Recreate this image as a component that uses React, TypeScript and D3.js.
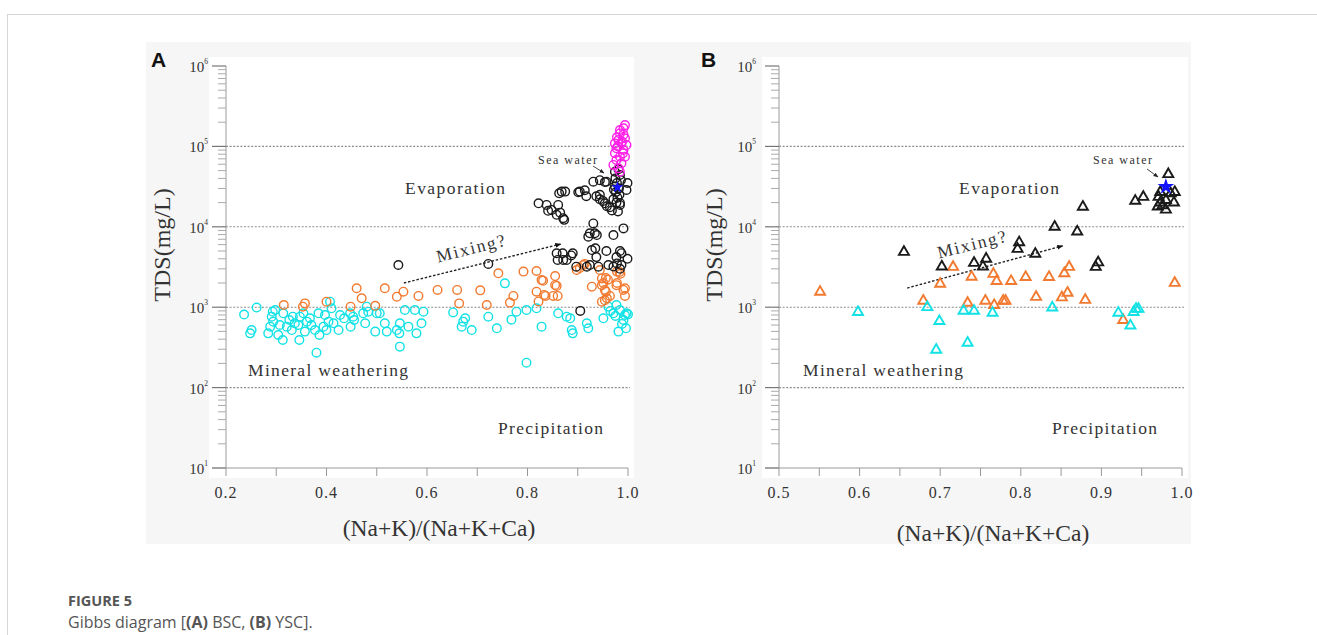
import React from 'react';
import * as d3 from 'd3';

type Pt = [number, number];

// ---------- Panel A (BSC) data: [(Na+K)/(Na+K+Ca), TDS mg/L] ----------
const bscCyan: Pt[] = [
  [0.236,810],[0.248,473],[0.251,520],[0.261,990],[0.284,473],[0.288,573],[0.291,762],[0.293,880],[0.294,661],[0.298,923],
  [0.304,451],[0.307,601],[0.313,391],[0.314,840],[0.321,573],[0.326,693],[0.331,520],[0.333,762],[0.337,631],[0.344,601],
  [0.346,391],[0.347,762],[0.354,840],[0.357,497],[0.361,661],[0.367,728],[0.370,601],[0.377,520],[0.380,272],[0.384,840],
  [0.386,451],[0.394,573],[0.397,800],[0.400,520],[0.404,661],[0.407,1170],[0.410,968],[0.414,631],[0.424,520],[0.427,800],
  [0.435,728],[0.447,840],[0.448,573],[0.453,762],[0.455,693],[0.473,840],[0.477,631],[0.480,1015],[0.483,880],[0.497,497],
  [0.500,840],[0.506,840],[0.516,631],[0.520,497],[0.540,520],[0.545,473],[0.546,323],[0.546,631],[0.556,923],[0.563,573],
  [0.576,923],[0.579,473],[0.589,631],[0.593,880],[0.652,860],[0.669,573],[0.672,661],[0.676,728],[0.689,520],[0.722,762],
  [0.739,546],[0.755,1980],[0.768,700],[0.778,880],[0.798,923],[0.798,204],[0.818,968],[0.828,573],[0.861,840],[0.878,762],
  [0.885,728],[0.888,520],[0.890,473],[0.918,631],[0.921,546],[0.951,728],[0.961,1015],[0.971,840],[0.977,1065],[0.981,497],
  [0.984,923],[0.991,693],[0.994,800],[0.996,546],[0.997,840],[1.0,815],[0.965,900],[0.975,780],[0.988,620]
];
const bscOrange: Pt[] = [
  [0.315,1065],[0.353,1015],[0.357,1115],[0.400,1170],[0.448,1015],[0.460,1720],[0.470,1290],[0.497,1040],[0.516,1720],[0.540,1350],
  [0.553,1560],[0.583,1380],[0.621,1640],[0.660,1640],[0.664,1115],[0.706,1620],[0.719,1065],[0.742,2640],[0.765,1140],[0.772,1380],
  [0.792,2770],[0.818,2820],[0.818,1560],[0.822,1180],[0.828,2180],[0.831,2140],[0.833,1420],[0.836,1380],[0.851,1380],[0.855,2440],
  [0.855,1890],[0.858,1840],[0.860,1380],[0.898,2900],[0.904,3080],[0.911,3350],[0.914,3450],[0.928,1800],[0.944,2900],[0.948,2280],
  [0.948,1880],[0.948,1170],[0.951,2000],[0.954,1640],[0.956,1560],[0.954,1220],[0.956,2300],[0.958,1290],[0.960,2200],[0.964,1380],
  [0.977,1880],[0.978,2770],[0.978,2000],[0.983,2750],[0.985,2600],[0.991,1640],[0.994,1380],[0.994,1720]
];
const bscBlack: Pt[] = [
  [0.543,3350],[0.722,3450],[0.822,19600],[0.838,18700],[0.841,15800],[0.848,16200],[0.858,14100],[0.861,18700],[0.865,15000],[0.871,12800],
  [0.873,12200],[0.863,26100],[0.868,27400],[0.875,27400],[0.901,26900],[0.904,27400],[0.914,28500],[0.917,24000],[0.931,36400],[0.944,38000],
  [0.954,36000],[0.957,36400],[0.937,24000],[0.944,22000],[0.944,25000],[0.950,21000],[0.954,19600],[0.958,18000],[0.964,17500],[0.968,16000],
  [0.971,22000],[0.977,20000],[0.980,15500],[0.984,18700],[0.984,19800],[0.999,35000],[0.997,28700],[0.974,48400],[0.984,44000],[0.975,40000],
  [0.978,35000],[0.982,30000],[0.976,27000],[0.983,25000],[0.979,23000],[0.974,32000],[0.981,52000],[0.986,38000],[0.972,29000],
  [0.931,11000],[0.924,8300],[0.938,7900],[0.921,7540],[0.934,8300],[0.971,7900],[0.991,9550],
  [0.858,4680],[0.870,4680],[0.860,3870],[0.871,3870],[0.878,3870],[0.890,4680],[0.887,4400],[0.897,3190],[0.918,3190],[0.924,3350],
  [0.928,5140],[0.935,5400],[0.937,4200],[0.941,3190],[0.957,5000],[0.961,3350],[0.977,4200],[0.978,3500],[0.984,5000],[0.987,4700],
  [0.987,3350],[0.999,4000],[0.984,3000],[0.971,3200],[0.905,900]
];
const bscMagenta: Pt[] = [
  [0.994,184000],[0.991,168000],[0.984,160000],[0.984,145000],[0.991,140000],[0.994,126000],[0.981,120000],[0.974,109000],[0.987,109000],[0.997,104000],
  [0.977,94700],[0.991,90200],[0.974,82000],[0.984,74500],[0.994,74500],[0.977,67800],[0.987,61600],[0.971,58800],[0.981,53400],[0.984,48500],
  [0.978,130000],[0.988,115000],[0.980,100000],[0.990,82000]
];
const bscSeaWater: Pt = [0.979, 31000];

// ---------- Panel B (YSC) data ----------
const yscBlack: Pt[] = [
  [0.655,4860],[0.702,3200],[0.742,3550],[0.753,3200],[0.757,4000],[0.796,5300],[0.798,6400],[0.818,4600],[0.842,10000],[0.870,8700],
  [0.877,17700],[0.893,3160],[0.896,3600],[0.942,21000],[0.952,23500],[0.970,17800],[0.971,23500],[0.973,20000],[0.973,27000],[0.980,16300],
  [0.980,21500],[0.983,45000],[0.986,26000],[0.990,20000],[0.991,27000],[0.976,18500]
];
const yscOrange: Pt[] = [
  [0.551,1550],[0.679,1200],[0.700,1950],[0.716,3160],[0.734,1130],[0.739,2380],[0.756,1200],[0.766,2590],[0.767,1060],[0.770,2110],
  [0.778,1200],[0.781,1200],[0.788,2110],[0.806,2370],[0.819,1340],[0.835,2370],[0.851,1320],[0.854,2630],[0.858,1510],[0.860,3160],
  [0.880,1230],[0.927,690],[0.991,2000]
];
const yscCyan: Pt[] = [
  [0.598,870],[0.684,1000],[0.695,295],[0.699,670],[0.729,900],[0.734,360],[0.742,900],[0.765,850],[0.839,990],[0.921,850],
  [0.936,590],[0.940,870],[0.943,950],[0.946,950]
];
const yscSeaWater: Pt = [0.980, 31600];

// ---------- axes ----------
const yExponents = [1, 2, 3, 4, 5, 6];
const gridExponents = [2, 3, 4, 5];
const xTicksA = [0.2, 0.4, 0.6, 0.8, 1.0];
const xTicksB = [0.5, 0.6, 0.7, 0.8, 0.9, 1.0];
const mixingA: Pt[] = [[0.554, 2000], [0.866, 6100]];
const mixingB: Pt[] = [[0.659, 1730], [0.852, 5800]];

const COLORS = { cyan: '#12e2e6', orange: '#f27a30', black: '#1a1a1a', magenta: '#ff20e8', star: '#1414ff' };
const SERIF = '"Liberation Serif", "Times New Roman", serif';

const yScale = d3.scaleLog().domain([10, 1e6]).range([468, 66]);

function triPath(s: number) {
  const h = (s * Math.sqrt(3)) / 2;
  return `M0,${-(2 * h) / 3}L${s / 2},${h / 3}L${-s / 2},${h / 3}Z`;
}

interface PanelProps {
  x: d3.ScaleLinear<number, number>;
  xTicks: number[];
  minorStep: number;
  letter: string;
  letterX: number;
  tickLabelX: number;
  titleX: number;
  xLabelX: number;
  xLabelY: number;
  mixing: Pt[];
  mixingText: [number, number];
  evapX: number;
  seaX: number;
  seaArrow: [number, number, number, number];
  mineralX: number;
  precipX: number;
  children: React.ReactNode;
}

function Panel(p: PanelProps) {
  const x0 = p.x.range()[0];
  const x1 = p.x.range()[1];
  const [d0, d1] = p.x.domain();
  const minors: number[] = [];
  for (let v = d0; v <= d1 + 1e-9; v += p.minorStep) minors.push(+v.toFixed(3));
  const yMinor: number[] = [];
  for (let e = 1; e < 6; e++) for (let m = 2; m <= 9; m++) yMinor.push(m * 10 ** e);
  const axisColor = '#9a9a9a';
  const m0 = p.x(p.mixing[0][0]), n0 = yScale(p.mixing[0][1]);
  const m1 = p.x(p.mixing[1][0]), n1 = yScale(p.mixing[1][1]);
  return (
    <g>
      <rect x={x0 - 17} y={57} width={x1 - x0 + 23} height={421} fill="#ffffff" />
      {gridExponents.map((e) => (
        <line key={'g' + e} x1={x0} x2={x1 + 2} y1={yScale(10 ** e)} y2={yScale(10 ** e)}
          stroke="#8c8c8c" strokeWidth={1.1} strokeDasharray="2,1.6" />
      ))}
      <line x1={x0} x2={x0} y1={yScale(1e6)} y2={yScale(10)} stroke={axisColor} strokeWidth={1} />
      {yExponents.map((e) => (
        <line key={'yM' + e} x1={x0 - 14} x2={x0} y1={yScale(10 ** e)} y2={yScale(10 ** e)} stroke="#777" strokeWidth={1.2} />
      ))}
      {yMinor.map((v) => (
        <line key={'ym' + v} x1={x0 - 8} x2={x0} y1={yScale(v)} y2={yScale(v)} stroke="#aaa" strokeWidth={1} />
      ))}
      {yExponents.map((e) => (
        <text key={'yl' + e} x={p.tickLabelX} y={yScale(10 ** e) + 6} textAnchor="end" fontFamily={SERIF}
          fontSize={15} fill="#333">
          10<tspan dy={-8} fontSize={7.5}>{e}</tspan>
        </text>
      ))}
      <line x1={x0 - 14} x2={x1} y1={468} y2={468} stroke={axisColor} strokeWidth={1} />
      {minors.map((v) => (
        <line key={'xt' + v} x1={p.x(v)} x2={p.x(v)} y1={468} y2={476} stroke="#999" strokeWidth={1} />
      ))}
      {p.xTicks.map((v) => (
        <text key={'xl' + v} x={p.x(v)} y={498} textAnchor="middle" fontFamily={SERIF} fontSize={16}
          letterSpacing={1} fill="#333">
          {v.toFixed(1)}
        </text>
      ))}
      <text transform={`translate(${p.titleX},245) rotate(-90)`} textAnchor="middle" fontFamily={SERIF}
        fontSize={24} fill="#333">TDS(mg/L)</text>
      <text x={p.xLabelX} y={p.xLabelY} textAnchor="middle" fontFamily={SERIF} fontSize={23.5} fill="#333">
        (Na+K)/(Na+K+Ca)
      </text>
      <text x={p.letterX} y={67} fontFamily='"Liberation Sans", Arial, sans-serif' fontWeight="bold" fontSize={21}
        fill="#111">{p.letter}</text>
      <text x={p.evapX} y={194} fontFamily={SERIF} fontSize={17.5} fill="#333" textLength={100}
        lengthAdjust="spacing">Evaporation</text>
      <text x={p.mineralX} y={376} fontFamily={SERIF} fontSize={17.5} fill="#333" textLength={160}
        lengthAdjust="spacing">Mineral weathering</text>
      <text x={p.precipX} y={434} fontFamily={SERIF} fontSize={17.5} fill="#333" textLength={105}
        lengthAdjust="spacing">Precipitation</text>
      <text x={p.seaX} y={164} fontFamily={SERIF} fontSize={12} fill="#333" textLength={59}
        lengthAdjust="spacing">Sea water</text>
      <line x1={p.seaArrow[0]} y1={p.seaArrow[1]} x2={p.seaArrow[2]} y2={p.seaArrow[3]} stroke="#333"
        strokeWidth={0.9} markerEnd="url(#arrSmall)" />
      <line x1={m0} y1={n0} x2={m1} y2={n1} stroke="#222" strokeWidth={1.4} strokeDasharray="2.5,1.8"
        markerEnd="url(#arrBig)" />
      <text transform={`translate(${p.mixingText[0]},${p.mixingText[1]}) rotate(-14)`} textAnchor="middle"
        fontFamily={SERIF} fontSize={17.5} fill="#333" textLength={70} lengthAdjust="spacing">Mixing?</text>
      {p.children}
    </g>
  );
}

export default function App() {
  const xA = d3.scaleLinear().domain([0.2, 1.0]).range([226, 628]);
  const xB = d3.scaleLinear().domain([0.5, 1.0]).range([779, 1182]);
  const star = d3.symbol().type(d3.symbolStar);
  const tri = triPath(10);
  const circles = (data: Pt[], color: string, key: string) =>
    data.map((d, i) => (
      <circle key={key + i} cx={xA(d[0])} cy={yScale(d[1])} r={4.3} fill="none" stroke={color} strokeWidth={1.4} />
    ));
  const triangles = (data: Pt[], color: string, key: string) =>
    data.map((d, i) => (
      <path key={key + i} d={tri} transform={`translate(${xB(d[0])},${yScale(d[1])})`} fill="none" stroke={color}
        strokeWidth={1.9} strokeLinejoin="miter" />
    ));
  return (
    <svg width={1317} height={635} style={{ position: 'absolute', left: 0, top: 0, background: '#fff' }}>
      <defs>
        <marker id="arrBig" viewBox="0 0 10 10" refX={9} refY={5} markerWidth={6} markerHeight={6}
          markerUnits="userSpaceOnUse" orient="auto">
          <path d="M0,1L10,5L0,9Z" fill="#111" />
        </marker>
        <marker id="arrSmall" viewBox="0 0 10 10" refX={9} refY={5} markerWidth={5} markerHeight={5}
          markerUnits="userSpaceOnUse" orient="auto">
          <path d="M0,1L10,5L0,9Z" fill="#222" />
        </marker>
      </defs>
      <line x1={8} x2={1317} y1={14.5} y2={14.5} stroke="#d6d6d6" strokeWidth={1} />
      <line x1={7.5} x2={7.5} y1={14} y2={635} stroke="#d6d6d6" strokeWidth={1} />
      <rect x={146} y={42} width={1045} height={502} fill="#f6f6f6" />
      <Panel x={xA} xTicks={xTicksA} minorStep={0.1} letter="A" letterX={151} tickLabelX={208} titleX={170}
        xLabelX={439} xLabelY={536} mixing={mixingA} mixingText={[472, 254]} evapX={405} seaX={538}
        seaArrow={[593, 166, 604, 173]} mineralX={248} precipX={498}>
        {circles(bscCyan, COLORS.cyan, 'c')}
        {circles(bscOrange, COLORS.orange, 'o')}
        {circles(bscBlack, COLORS.black, 'k')}
        {circles(bscMagenta, COLORS.magenta, 'm')}
        <path d={star.size(45)() || ''} transform={`translate(${xA(bscSeaWater[0])},${yScale(bscSeaWater[1])})`}
          fill={COLORS.star} />
      </Panel>
      <Panel x={xB} xTicks={xTicksB} minorStep={0.05} letter="B" letterX={701} tickLabelX={756} titleX={722}
        xLabelX={993} xLabelY={541} mixing={mixingB} mixingText={[973, 250]} evapX={959} seaX={1093}
        seaArrow={[1147, 169, 1158, 177]} mineralX={803} precipX={1052}>
        {triangles(yscOrange, COLORS.orange, 'o')}
        {triangles(yscCyan, COLORS.cyan, 'c')}
        {triangles(yscBlack, COLORS.black, 'k')}
        <path d={star.size(85)() || ''} transform={`translate(${xB(yscSeaWater[0])},${yScale(yscSeaWater[1])})`}
          fill={COLORS.star} />
      </Panel>
      <text x={68} y={606} fontFamily='"Open Sans", "Noto Sans", sans-serif' fontWeight="bold" fontSize={14.5}
        fill="#555">FIGURE 5</text>
      <text x={68} y={628} fontFamily='"Open Sans", "Noto Sans", sans-serif' fontSize={16} fill="#555">
        Gibbs diagram [<tspan fontWeight="bold">(A)</tspan> BSC, <tspan fontWeight="bold">(B)</tspan> YSC].
      </text>
    </svg>
  );
}
